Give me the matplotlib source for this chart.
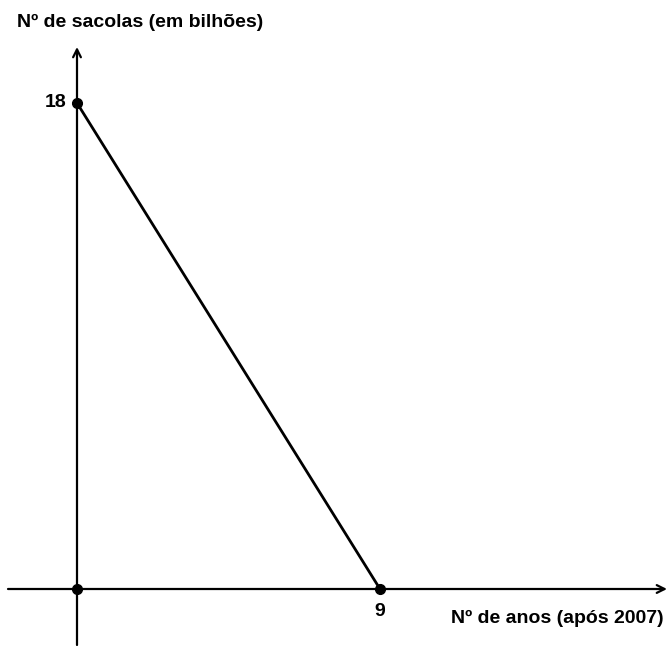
import matplotlib
matplotlib.use("Agg")
import matplotlib.pyplot as plt

# data
years = [0, 9]
bags = [18, 0]
x_label = "Nº de anos (após 2007)"
y_label = "Nº de sacolas (em bilhões)"
y_tick_labels = ["18"]
x_tick_labels = ["9"]

plt.rcParams['font.family'] = ['Liberation Sans', 'DejaVu Sans']

W, H = 666, 646
fig = plt.figure(figsize=(W / 100, H / 100), dpi=100)
ax = fig.add_axes([0, 0, 1, 1])
ox, oy = 77, 589
sx = (380 - ox) / 9.0
sy = (oy - 103) / 18.0
ax.set_xlim(-ox / sx, (W - ox) / sx)
ax.set_ylim(-(H - oy) / sy, oy / sy)
ax.axis('off')

def px_x(p):
    return (p - ox) / sx

def px_y(p):
    return (oy - p) / sy

# axes with arrows
ax.annotate('', xy=(px_x(667), 0), xytext=(px_x(8), 0), annotation_clip=False,
            arrowprops=dict(arrowstyle='->', lw=1.6, color='black',
                            mutation_scale=14, shrinkA=0, shrinkB=0))
ax.annotate('', xy=(0, px_y(47)), xytext=(0, px_y(645)), annotation_clip=False,
            arrowprops=dict(arrowstyle='->', lw=1.6, color='black',
                            mutation_scale=14, shrinkA=0, shrinkB=0))

# line segment
ax.plot(years, bags, color='black', lw=2.0, solid_capstyle='round')
ax.plot(years + [0], bags + [0], 'o', color='black', ms=7, zorder=5)

fs = 14
ax.text(px_x(66), bags[0], y_tick_labels[0], ha='right', va='center',
        fontsize=fs, fontweight='bold')
ax.text(years[1], px_y(611), x_tick_labels[0], ha='center', va='center',
        fontsize=fs, fontweight='bold')
ax.text(px_x(664), px_y(618), x_label, ha='right', va='center',
        fontsize=fs, fontweight='bold')
ax.text(px_x(17), px_y(22), y_label, ha='left', va='center',
        fontsize=fs, fontweight='bold')

fig.savefig('out.png', dpi=100)
